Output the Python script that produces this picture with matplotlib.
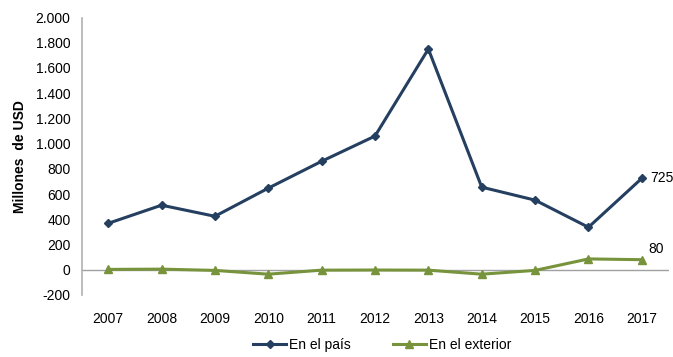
import matplotlib
matplotlib.use("Agg")
import matplotlib.pyplot as plt

years = ["2007", "2008", "2009", "2010", "2011", "2012", "2013", "2014", "2015", "2016", "2017"]
en_el_pais = [368, 512, 424, 647, 860, 1060, 1750, 655, 552, 337, 725]
en_el_exterior = [3, 5, -5, -35, -3, -2, -3, -35, -5, 86, 80]
y_ticks = [-200, 0, 200, 400, 600, 800, 1000, 1200, 1400, 1600, 1800, 2000]

navy = "#243F60"
green = "#77933C"

plt.rcParams["font.family"] = ["Liberation Sans", "DejaVu Sans"]

fig = plt.figure(figsize=(6.73, 3.57), dpi=100)
ax = fig.add_axes([81.5 / 673, 1 - 295 / 357, (668.5 - 81.5) / 673, (295 - 17.5) / 357])

x = list(range(len(years)))
ax.plot(x, en_el_pais, color=navy, lw=2.2, marker="D", ms=4, label="En el país")
ax.plot(x, en_el_exterior, color=green, lw=2.2, marker="^", ms=6, label="En el exterior")

ax.axhline(0, color="#A0A0A0", lw=1, zorder=0)

ax.set_xlim(-0.5, len(years) - 0.5)
ax.set_ylim(-200, 2000)
ax.set_yticks(y_ticks)
ax.set_yticklabels([f"{v:,}".replace(",", ".") for v in y_ticks])
ax.set_xticks(x)
ax.set_xticklabels(years)
ax.tick_params(axis="both", length=0, labelsize=10, colors="black")
ax.tick_params(axis="x", pad=12)
ax.tick_params(axis="y", pad=8)

for side in ["top", "right", "bottom"]:
    ax.spines[side].set_visible(False)
ax.spines["left"].set_color("#B0B0B0")
ax.spines["left"].set_linewidth(1.2)

ax.set_ylabel("Millones  de USD", fontsize=10, fontweight="bold", labelpad=6)

ax.annotate(f"{en_el_pais[-1]}", (x[-1], en_el_pais[-1]), xytext=(6, 0),
            textcoords="offset points", va="center", ha="left", fontsize=10)
ax.annotate(f"{en_el_exterior[-1]}", (x[-1], en_el_exterior[-1]), xytext=(5, 8),
            textcoords="offset points", va="center", ha="left", fontsize=10)

fig.legend(loc="center", bbox_to_anchor=(382 / 673, 1 - 345 / 357), ncol=2, frameon=False,
           fontsize=10, handlelength=2.4, columnspacing=3.0, handletextpad=0.2)

fig.savefig("out.png", dpi=100)
